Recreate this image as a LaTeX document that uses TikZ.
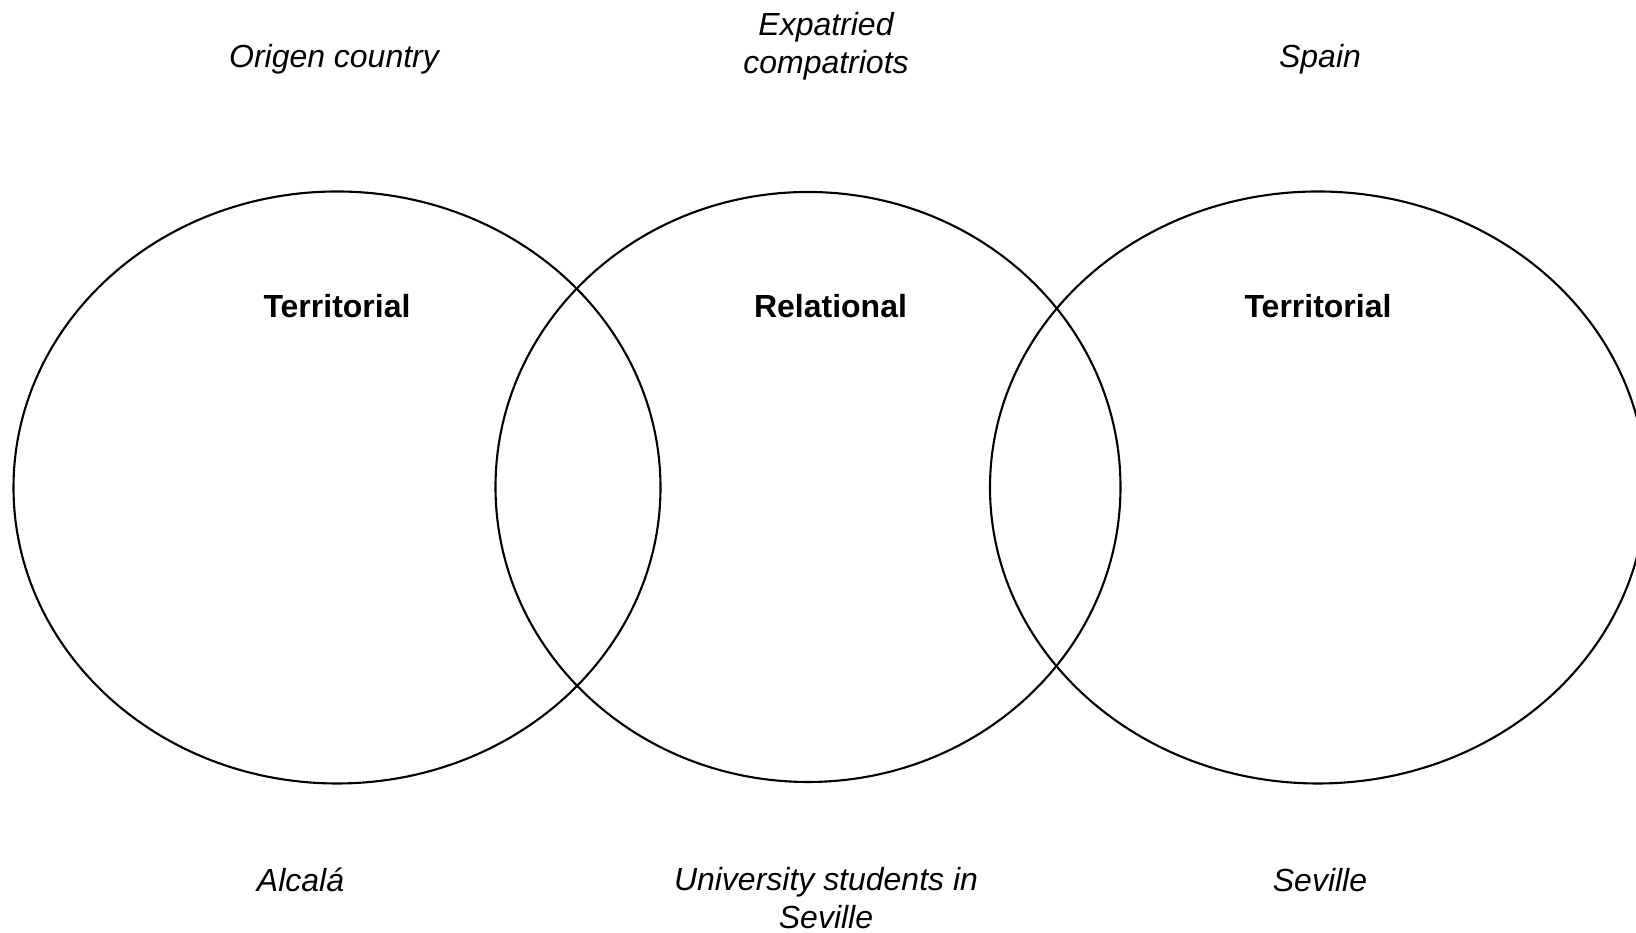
\documentclass[tikz,border=0pt]{standalone}
\usepackage{fontspec}
\setmainfont{Liberation Sans}
\usetikzlibrary{positioning}
\tikzset{%
	zone/.style    = {line width=0.6pt},
	level/.style   = {font=\fontsize{9.1}{10.8}\selectfont\bfseries, align=center},
	place/.style   = {font=\fontsize{9.1}{10.8}\selectfont\itshape, align=center},
}
\begin{document}
\begin{tikzpicture}
	\useasboundingbox (0,0) rectangle (16.36,9.33);
	\clip (0,0) rectangle (16.36,9.33);
	
	\draw[zone] (3.37,4.455) ellipse (3.235 and 2.96);
	\draw[zone] (8.08,4.46) ellipse (3.125 and 2.95);
	\draw[zone] (13.18,4.455) ellipse (3.28 and 2.96);
	
	\node[level] (terrA) at (3.37,6.27) {Territorial};
	\node[level] (rel) at (8.305,6.27) {Relational};
	\node[level] (terrB) at (13.18,6.27) {Territorial};
	
	\node[place] (origin) at (3.34,8.74) {Origen country};
	\node[place] (expat) at (8.26,8.87) {Expatried\\compatriots};
	\node[place] (spain) at (13.20,8.74) {Spain};
	
	\node[place] (alcala) at (3.005,0.53) {Alcalá};
	\node[place] (students) at (8.26,0.35) {University students in\\Seville};
	\node[place] (seville) at (13.20,0.53) {Seville};
\end{tikzpicture}
\end{document}
